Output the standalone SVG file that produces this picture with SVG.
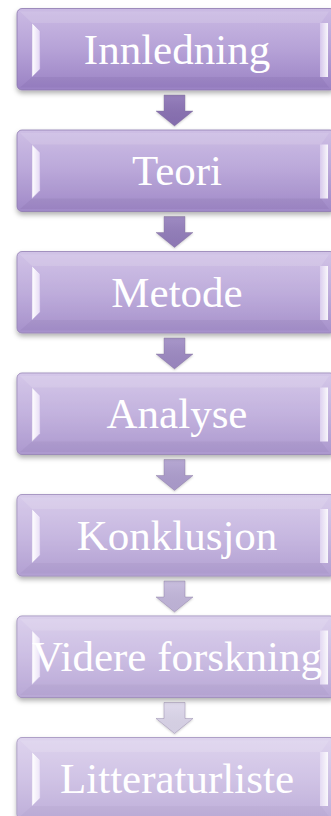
<svg xmlns="http://www.w3.org/2000/svg" width="331" height="816" viewBox="0 0 331 816">
  <defs>
    <linearGradient id="boxFill" x1="0" y1="0" x2="0" y2="1">
      <stop offset="0" stop-color="#cbbbe4"/>
      <stop offset="0.5" stop-color="#b6a2d7"/>
      <stop offset="1" stop-color="#9a82c4"/>
    </linearGradient>
    <linearGradient id="bevelL" x1="0" y1="0" x2="1" y2="0">
      <stop offset="0" stop-color="#ffffff"/>
      <stop offset="1" stop-color="#e3d6f4"/>
    </linearGradient>
    <linearGradient id="bevelR" x1="0" y1="0" x2="1" y2="0">
      <stop offset="0" stop-color="#d9caee"/>
      <stop offset="1" stop-color="#ffffff"/>
    </linearGradient>
    <linearGradient id="arrowFill" x1="0" y1="0" x2="0" y2="1">
      <stop offset="0" stop-color="#ffffff" stop-opacity="0.12"/>
      <stop offset="1" stop-color="#000000" stop-opacity="0.04"/>
    </linearGradient>
    <filter id="shadow" x="-5%" y="-10%" width="110%" height="130%">
      <feDropShadow dx="0" dy="3" stdDeviation="2.5" flood-color="#000" flood-opacity="0.3"/>
    </filter>
    <filter id="arrowShadow" x="-20%" y="-20%" width="140%" height="150%">
      <feDropShadow dx="0" dy="1" stdDeviation="1" flood-color="#000" flood-opacity="0.2"/>
    </filter>
    <!-- one step: bevelled box, origin at its top-left -->
    <g id="box">
      <rect x="0" y="0" width="318" height="81.5" rx="5" fill="url(#boxFill)" stroke="#8a76ad" stroke-width="0.8" filter="url(#shadow)"/>
      <polygon points="3,3 312,3 304,14.5 15,14.5" fill="#ffffff" opacity="0.12"/>
      <polygon points="15,68.5 304,68.5 312,79 3,79" fill="#3a2060" opacity="0.07"/>
      <polygon points="15,14.5 23,22.5 23,60.5 15,68.5" fill="url(#bevelL)" stroke="#b9a6d8" stroke-width="0.5"/>
      <polygon points="303,14.5 311,14.5 311,68.5 303,68.5" fill="url(#bevelR)" opacity="0.9"/>
    </g>
    <!-- block arrow pointing down, tip at (0,0) -->
    <polygon id="arrow" points="-10.5,-31 10.5,-31 10.5,-15 18.5,-15 0,0 -18.5,-15 -10.5,-15"/>
  </defs>
  <style>
    .label { font-family: "Liberation Serif", "DejaVu Serif", serif; font-size: 43px; fill: #ffffff; text-anchor: middle; }
    .wash { fill: #ffffff; }
    .arw { stroke: #7d6d96; stroke-width: 0.6; stroke-opacity: 0.6; }
  </style>

  <g id="connectors">
    <g transform="translate(174.5,126)" filter="url(#arrowShadow)"><use href="#arrow" class="arw" fill="#8a71b5"/><use href="#arrow" fill="url(#arrowFill)"/></g>
    <g transform="translate(174.5,247.5)" filter="url(#arrowShadow)"><use href="#arrow" class="arw" fill="#937dbc"/><use href="#arrow" fill="url(#arrowFill)"/></g>
    <g transform="translate(174.5,369)" filter="url(#arrowShadow)"><use href="#arrow" class="arw" fill="#9e8ac4"/><use href="#arrow" fill="url(#arrowFill)"/></g>
    <g transform="translate(174.5,490.5)" filter="url(#arrowShadow)"><use href="#arrow" class="arw" fill="#ae9ecf"/><use href="#arrow" fill="url(#arrowFill)"/></g>
    <g transform="translate(174.5,612)" filter="url(#arrowShadow)"><use href="#arrow" class="arw" fill="#c3b7dc"/><use href="#arrow" fill="url(#arrowFill)"/></g>
    <g transform="translate(174.5,733.5)" filter="url(#arrowShadow)"><use href="#arrow" class="arw" fill="#ddd7ec"/><use href="#arrow" fill="url(#arrowFill)"/></g>
  </g>

  <g id="node-innledning" transform="translate(17,8.5)">
    <use href="#box"/>
    <text class="label" x="160" y="55">Innledning</text>
  </g>
  <g id="node-teori" transform="translate(17,130)">
    <use href="#box"/>
    <rect class="wash" x="0" y="0" width="318" height="81.5" rx="5" opacity="0.06"/>
    <text class="label" x="160" y="55">Teori</text>
  </g>
  <g id="node-metode" transform="translate(17,251.5)">
    <use href="#box"/>
    <rect class="wash" x="0" y="0" width="318" height="81.5" rx="5" opacity="0.12"/>
    <text class="label" x="160" y="55">Metode</text>
  </g>
  <g id="node-analyse" transform="translate(17,373)">
    <use href="#box"/>
    <rect class="wash" x="0" y="0" width="318" height="81.5" rx="5" opacity="0.18"/>
    <text class="label" x="160" y="55">Analyse</text>
  </g>
  <g id="node-konklusjon" transform="translate(17,494.5)">
    <use href="#box"/>
    <rect class="wash" x="0" y="0" width="318" height="81.5" rx="5" opacity="0.24"/>
    <text class="label" x="160" y="55">Konklusjon</text>
  </g>
  <g id="node-videre-forskning" transform="translate(17,616)">
    <use href="#box"/>
    <rect class="wash" x="0" y="0" width="318" height="81.5" rx="5" opacity="0.3"/>
    <text class="label" x="160" y="55">Videre forskning</text>
  </g>
  <g id="node-litteraturliste" transform="translate(17,737.5)">
    <use href="#box"/>
    <rect class="wash" x="0" y="0" width="318" height="81.5" rx="5" opacity="0.36"/>
    <text class="label" x="160" y="55">Litteraturliste</text>
  </g>
</svg>
